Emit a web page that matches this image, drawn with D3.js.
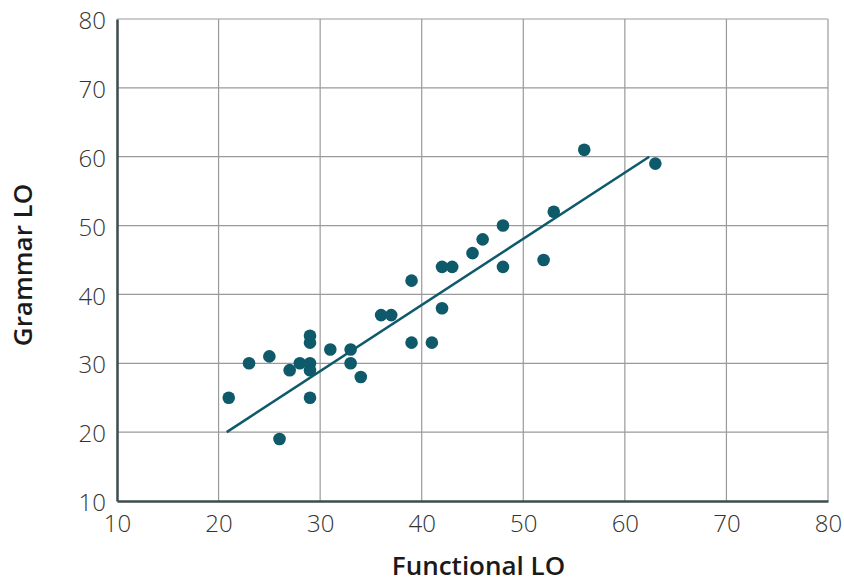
<!DOCTYPE html>
<html>
<head>
<meta charset="utf-8">
<script src="https://cdn.jsdelivr.net/npm/d3@7"></script>
<style>
  body { margin: 0; background: #fff; }
  svg { display: block; font-family: "Open Sans", sans-serif; }
</style>
</head>
<body>
<div id="chart"></div>
<script>
// scores
var functionalLO = [21, 23, 25, 26, 27, 28, 29, 29, 29, 29, 29, 31, 33, 33, 34, 36, 37, 39, 39, 41, 42, 42, 43, 45, 46, 48, 48, 52, 53, 56, 63]
var grammarLO    = [25, 30, 31, 19, 29, 30, 34, 33, 30, 29, 25, 32, 32, 30, 28, 37, 37, 42, 33, 33, 38, 44, 44, 46, 48, 50, 44, 45, 52, 61, 59]

// fit line end points
var trendX = [20.8, 62.4]
var trendY = [20, 60]

var xTicks = [10, 20, 30, 40, 50, 60, 70, 80]
var yTicks = [10, 20, 30, 40, 50, 60, 70, 80]

var width = 844, height = 582
var margin = {top: 19, right: 16, bottom: 81, left: 117}

var svg = d3.select('#chart').append('svg')
  .attr('width', width)
  .attr('height', height)

var x = d3.scaleLinear().domain([10, 80]).range([margin.left, width - margin.right])
var y = d3.scaleLinear().domain([10, 80]).range([height - margin.bottom, margin.top])

// grid
svg.append('g').selectAll('line').data(xTicks.slice(1)).enter()
  .append('line')
  .attr('x1', function (d) { return x(d) }).attr('x2', function (d) { return x(d) })
  .attr('y1', y(10)).attr('y2', y(80))
  .attr('stroke', '#9a9a9a').attr('stroke-width', 1.2)

svg.append('g').selectAll('line').data(yTicks.slice(1)).enter()
  .append('line')
  .attr('y1', function (d) { return y(d) }).attr('y2', function (d) { return y(d) })
  .attr('x1', x(10)).attr('x2', x(80))
  .attr('stroke', '#9a9a9a').attr('stroke-width', 1.2)

// axes
var xAxis = svg.append('g')
  .attr('transform', 'translate(0,' + y(10) + ')')
  .call(d3.axisBottom(x).tickValues(xTicks).tickSize(0).tickPadding(14))
var yAxis = svg.append('g')
  .attr('transform', 'translate(' + x(10) + ',0)')
  .call(d3.axisLeft(y).tickValues(yTicks).tickSize(0).tickPadding(11))

;[xAxis, yAxis].forEach(function (a) {
  a.select('.domain').attr('stroke', '#3e4a4d').attr('stroke-width', 2.5)
  a.selectAll('text')
    .style('font-size', '24px')
    .style('font-family', '"Open Sans", sans-serif')
    .style('font-weight', 300)
    .attr('fill', '#333')
})
yAxis.selectAll('text').attr('dy', '0.4em')

// trend line
svg.append('line')
  .attr('x1', x(trendX[0])).attr('y1', y(trendY[0]))
  .attr('x2', x(trendX[1])).attr('y2', y(trendY[1]))
  .attr('stroke', '#0e5a6b').attr('stroke-width', 2.5)

// points
svg.append('g').selectAll('circle').data(functionalLO).enter()
  .append('circle')
  .attr('cx', function (d) { return x(d) })
  .attr('cy', function (d, i) { return y(grammarLO[i]) })
  .attr('r', 6.3)
  .attr('fill', '#0e5a6b')

// titles
svg.append('text')
  .attr('x', (x(10) + x(80)) / 2 + 6)
  .attr('y', 575)
  .attr('text-anchor', 'middle')
  .style('font-size', '26px')
  .style('font-weight', 600)
  .attr('fill', '#1a1a1a')
  .text('Functional LO')

svg.append('text')
  .attr('transform', 'translate(32,' + 265 + ') rotate(-90)')
  .attr('text-anchor', 'middle')
  .style('font-size', '26px')
  .style('font-weight', 600)
  .attr('fill', '#1a1a1a')
  .text('Grammar LO')
</script>
</body>
</html>
